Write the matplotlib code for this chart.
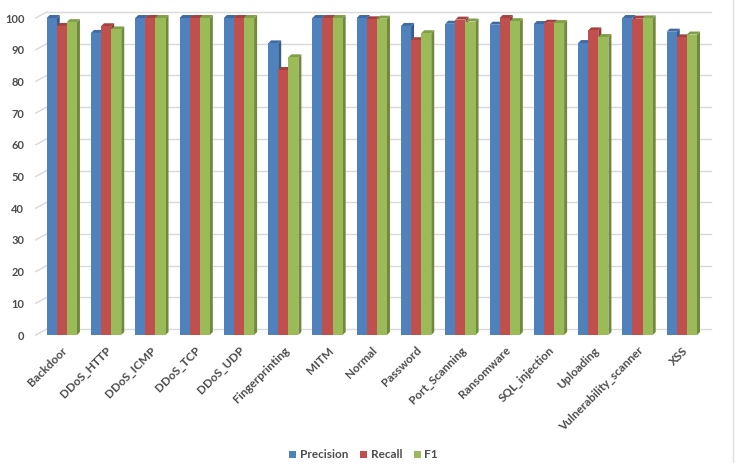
import matplotlib
matplotlib.use("Agg")
import matplotlib.pyplot as plt
from matplotlib.patches import Polygon, Rectangle
from matplotlib.lines import Line2D
from matplotlib.transforms import ScaledTranslation
import numpy as np

categories = ["Backdoor", "DDoS_HTTP", "DDoS_ICMP", "DDoS_TCP", "DDoS_UDP",
              "Fingerprinting", "MITM", "Normal", "Password", "Port_Scanning",
              "Ransomware", "SQL_injection", "Uploading", "Vulnerability_scanner", "XSS"]
precision = [100.0, 95.3, 100.0, 100.0, 100.0, 92.0, 100.0, 100.0, 97.5, 98.2, 97.9, 98.1, 92.1, 100.0, 95.7]
recall    = [97.5, 97.4, 100.0, 100.0, 100.0, 83.6, 100.0, 99.6, 93.0, 99.5, 100.0, 98.5, 96.1, 99.8, 93.9]
f1        = [98.7, 96.4, 100.0, 100.0, 100.0, 87.6, 100.0, 99.8, 95.2, 98.9, 99.0, 98.4, 94.0, 99.9, 94.8]
series_names = ["Precision", "Recall", "F1"]
yticks = list(range(0, 101, 10))

front = ["#4F81BD", "#C0504D", "#9BBB59"]
side = ["#385D8A", "#8C3836", "#71893F"]
top = ["#3E6BA3", "#A5423F", "#809F47"]
text_color = "#4D4D4D"

plt.rcParams['font.family'] = ['Lato', 'DejaVu Sans']
fig = plt.figure(figsize=(7.42, 4.71), dpi=100)
ax = fig.add_axes([0.0535, 0.2887, 0.8953, 0.673])

n = len(categories)
x = np.arange(n)
w = 0.228
dx = 0.068
dy = 0.95
data = [precision, recall, f1]
offsets = [-0.343, -0.115, 0.113]

ax.set_xlim(-0.5, n - 0.5)
ax.set_ylim(0, 100)

# back-wall gridlines with floor/side diagonals
back = ax.transData + ScaledTranslation(0.07, 0.06, fig.dpi_scale_trans)
frontedge = ax.transData + ScaledTranslation(-0.04, 0.0, fig.dpi_scale_trans)
x_lo, x_hi = ax.get_xlim()
for t in yticks:
    ax.add_line(Line2D([x_lo, x_hi], [t, t], color='#D9D9D9', linewidth=1.0,
                       transform=back, zorder=1, clip_on=False))
    # diagonal piece
    p0 = frontedge.transform((x_lo, t))
    p1 = back.transform((x_lo, t))
    inv = ax.transData.inverted()
    q0 = inv.transform(p0)
    q1 = inv.transform(p1)
    ax.add_line(Line2D([q0[0], q1[0]], [q0[1], q1[1]], color='#D9D9D9', linewidth=1.0,
                       zorder=1, clip_on=False))

for k, vals in enumerate(data):
    for i, v in enumerate(vals):
        x0 = x[i] + offsets[k]
        ax.add_patch(Polygon([(x0 + w, 0), (x0 + w + dx, dy), (x0 + w + dx, v + dy), (x0 + w, v)],
                             closed=True, facecolor=side[k], edgecolor='none', zorder=3, clip_on=False))
        ax.add_patch(Polygon([(x0, v), (x0 + dx, v + dy), (x0 + w + dx, v + dy), (x0 + w, v)],
                             closed=True, facecolor=top[k], edgecolor='none', zorder=3, clip_on=False))
        ax.add_patch(Rectangle((x0, 0), w, v, facecolor=front[k], edgecolor='none', zorder=4, clip_on=False))

ax.set_yticks(yticks)
ax.set_yticklabels([str(t) for t in yticks], fontsize=8, fontweight='bold', color=text_color)
for s in ax.spines.values():
    s.set_visible(False)
ax.tick_params(axis='both', length=0)
ax.tick_params(axis='y', pad=11)
ax.set_xticks(x)
ax.set_xticklabels(categories, rotation=45, ha='right', rotation_mode='anchor',
                   fontsize=8.5, fontweight='bold', color=text_color)
ax.tick_params(axis='x', pad=7)

handles = [Rectangle((0, 0), 1, 1, facecolor=front[k]) for k in range(3)]
leg = fig.legend(handles, series_names, loc='center', bbox_to_anchor=(0.49, 0.034), ncol=3,
                 frameon=False, handlelength=0.6, handleheight=0.6, columnspacing=1.0,
                 handletextpad=0.3, prop={'weight': 'bold', 'size': 8.5})
for t in leg.get_texts():
    t.set_color(text_color)

fig.add_artist(Line2D([0.988, 0.988], [0.02, 1.0], color='#E0E0E0', linewidth=1.0,
                      transform=fig.transFigure))

fig.savefig("out.png", dpi=100)
